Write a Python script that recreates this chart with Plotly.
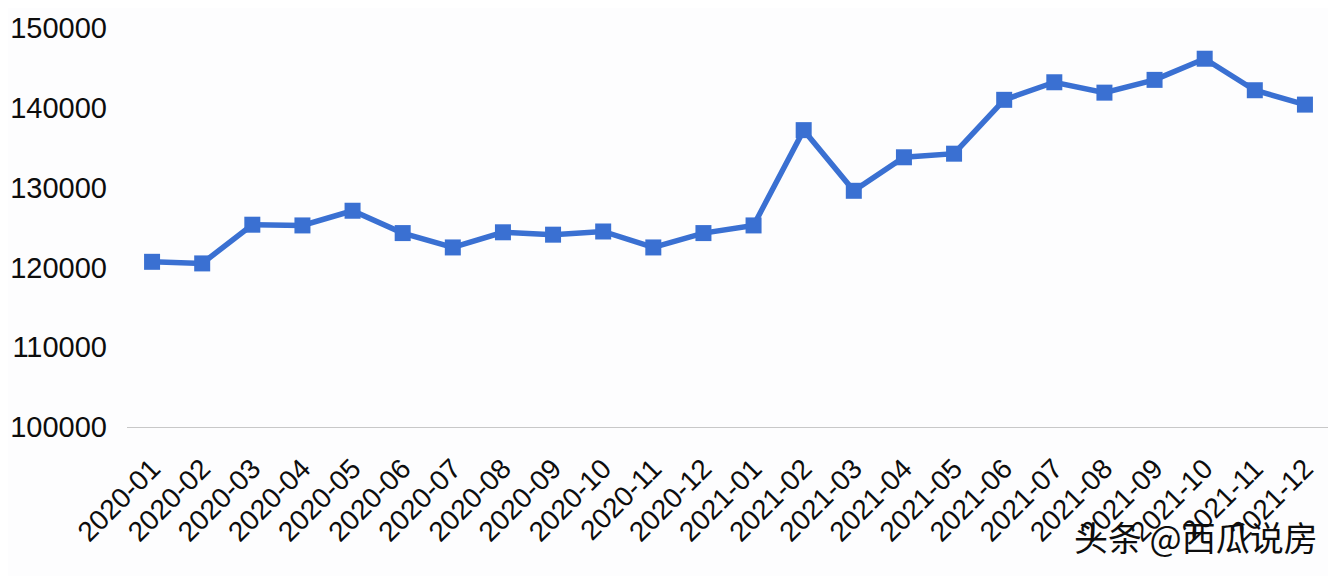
import plotly.graph_objects as go

months = ["2020-01", "2020-02", "2020-03", "2020-04", "2020-05", "2020-06",
          "2020-07", "2020-08", "2020-09", "2020-10", "2020-11", "2020-12",
          "2021-01", "2021-02", "2021-03", "2021-04", "2021-05", "2021-06",
          "2021-07", "2021-08", "2021-09", "2021-10", "2021-11", "2021-12"]
values = [120700, 120500, 125350, 125260, 127100, 124300,
          122500, 124400, 124100, 124500, 122500, 124300,
          125260, 137200, 129600, 133800, 134250, 141000,
          143200, 141900, 143500, 146150, 142200, 140400]
y_ticks = [100000, 110000, 120000, 130000, 140000, 150000]

color = "#3a70d2"

fig = go.Figure()
fig.add_trace(go.Scatter(
    x=months, y=values, mode="lines+markers",
    line=dict(color=color, width=5.5),
    marker=dict(symbol="square", size=16, color=color),
    showlegend=False,
))

fig.update_layout(
    width=1328, height=568,
    margin=dict(l=119, r=6, t=20, b=149, autoexpand=False),
    paper_bgcolor="#fdfdfe", plot_bgcolor="#fdfdfe",
    font=dict(family="Liberation Sans, Arial, sans-serif", color="#0d0d0d"),
    xaxis=dict(
        type="category", tickangle=-45, showgrid=False,
        showline=True, linecolor="#c8c8c8", linewidth=1,
        tickfont=dict(size=28), ticks="", range=[-0.5, 23.5],
        ticklabelstandoff=13, automargin=False,
    ),
    yaxis=dict(
        range=[100000, 150000], tickvals=y_ticks,
        ticktext=[str(v) for v in y_ticks],
        showgrid=False, zeroline=False, showline=False,
        tickfont=dict(size=29), ticklabelstandoff=19, automargin=False,
    ),
    annotations=[dict(
        text="头条 @西瓜说房", xref="paper", yref="paper",
        x=0.992, y=-0.274, xanchor="right", yanchor="middle",
        showarrow=False,
        font=dict(family="Noto Sans CJK SC", size=34, color="#0d0d0d"),
    )],
)

fig.write_html("out.html")
